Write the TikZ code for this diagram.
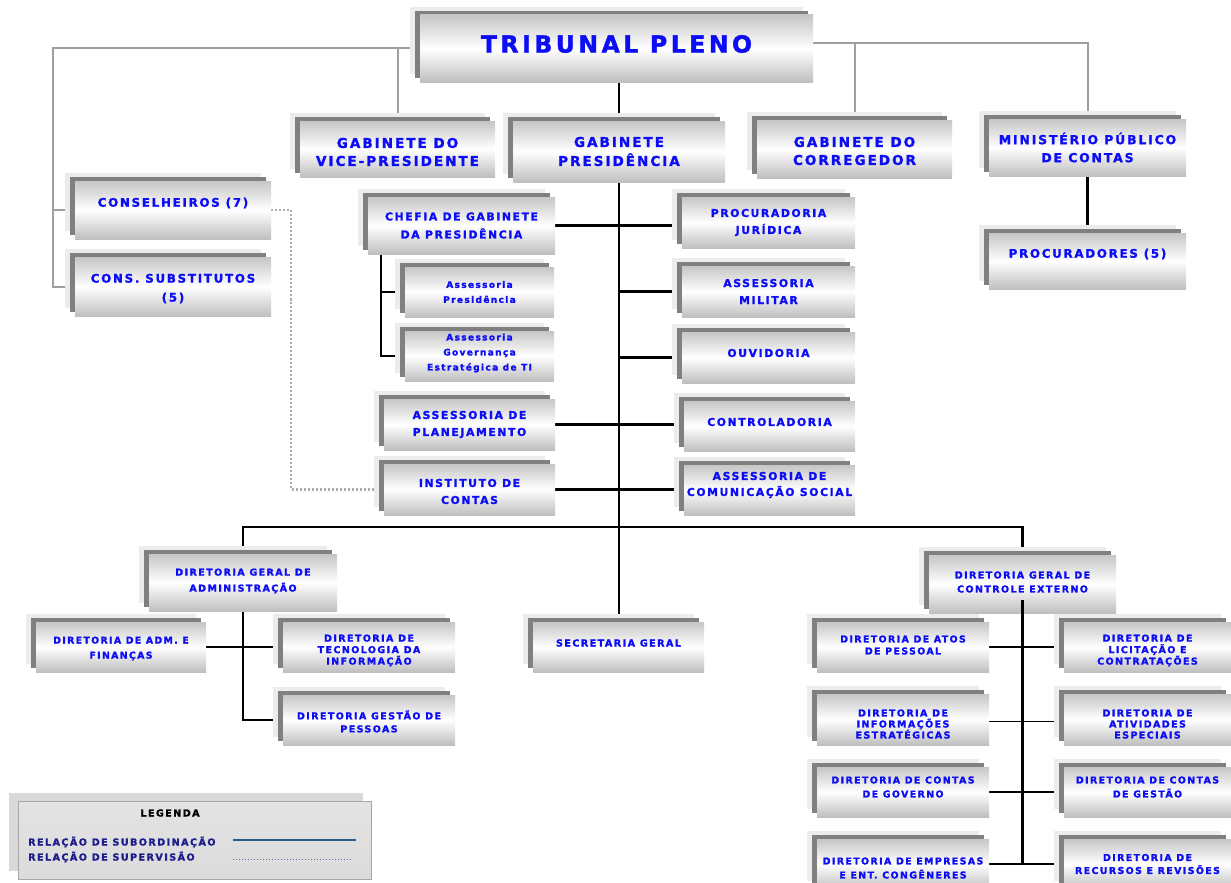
\documentclass[tikz,border=0pt]{standalone}
\usepackage{fontspec}
\newfontfamily\bxf{DejaVu Sans Bold}[LetterSpace=15, FakeBold=1.6]
\usetikzlibrary{shadows,backgrounds}
\definecolor{tblue}{RGB}{12,12,245}
\definecolor{navy}{RGB}{30,30,140}
\definecolor{steel}{RGB}{44,90,135}
\definecolor{steeld}{RGB}{80,112,160}
\tikzset{
  obox/.style={shade, top color=gray!45, bottom color=gray!50, middle color=white, inner sep=0pt,
    general shadow={fill=gray!15, shadow xshift=-10pt, shadow yshift=8pt},
    general shadow={fill=gray, shadow xshift=-5pt, shadow yshift=4pt}},
  otext/.style={text=tblue, align=center, inner sep=0pt},
  bline/.style={black, line width=2.2pt},
  spine/.style={black, line width=2.6pt},
  tline/.style={black, line width=1.8pt},
  gline/.style={gray!75, line width=2pt},
  dline/.style={gray!65, dash pattern=on 2pt off 2pt, line width=2.2pt},
}
\newcommand\obx[9]{%
  \node[obox, minimum width={(#4-#2)*1pt}, minimum height={(#5-#3)*1pt}] (#1) at ({(#2+#4)/2},{(#3+#5)/2}) {};
  \node[otext, font={\bxf\fontsize{#6}{#7}\selectfont}, yshift={-1pt*(#8)}] (#1t) at (#1) {#9};}
\begin{document}
\begin{tikzpicture}[x=1pt,y=-1pt]
\useasboundingbox (0,0) rectangle (1231,883);
\obx{tp}{420}{15}{813}{82}{23.5}{28}{-4.5}{TRIBUNAL PLENO}
\obx{vice}{300}{121}{495}{177}{13.5}{18}{3}{GABINETE DO\\VICE-PRESIDENTE}
\obx{gp}{513}{121}{725}{182}{13.5}{19}{0}{GABINETE\\PRESIDÊNCIA}
\obx{corr}{757}{120}{952}{178}{13.5}{18}{2}{GABINETE DO\\CORREGEDOR}
\obx{mpc}{989}{119}{1186}{176}{12.4}{18}{0}{MINISTÉRIO PÚBLICO\\DE CONTAS}
\obx{proc}{989}{233}{1186}{289}{11.8}{18}{-7}{PROCURADORES (5)}
\obx{cons}{75}{181}{271}{239}{11.8}{18}{-7}{CONSELHEIROS (7)}
\obx{subs}{75}{257}{271}{316}{11.8}{19}{2}{CONS. SUBSTITUTOS\\(5)}
\obx{chefia}{368}{197}{555}{254}{10.8}{18}{0}{CHEFIA DE GABINETE\\DA PRESIDÊNCIA}
\obx{ap}{405}{267}{554}{317}{9}{15}{0}{Assessoria\\Presidência}
\obx{ag}{405}{331}{554}{381}{9}{15}{-3}{Assessoria\\Governança\\Estratégica de TI}
\obx{pj}{682}{197}{855}{248}{10.8}{17}{0}{PROCURADORIA\\JURÍDICA}
\obx{am}{682}{266}{855}{317}{10.8}{17}{0}{ASSESSORIA\\MILITAR}
\obx{ouv}{682}{332}{855}{383}{10.8}{17}{-4.5}{OUVIDORIA}
\obx{plan}{384}{399}{555}{450}{10.8}{17}{0}{ASSESSORIA DE\\PLANEJAMENTO}
\obx{inst}{384}{464}{555}{515}{10.8}{17}{2}{INSTITUTO DE\\CONTAS}
\obx{ctrl}{684}{401}{855}{451}{10.8}{17}{-4}{CONTROLADORIA}
\obx{com}{684}{465}{855}{515}{10.8}{16}{-5}{ASSESSORIA DE\\COMUNICAÇÃO SOCIAL}
\obx{dga}{149}{554}{337}{611}{9.5}{16}{-1.5}{DIRETORIA GERAL DE\\ADMINISTRAÇÃO}
\obx{adm}{36}{622}{206}{672}{9.3}{15}{1.5}{DIRETORIA DE ADM. E\\FINANÇAS}
\obx{tec}{283}{622}{455}{672}{9.5}{11.5}{3.5}{DIRETORIA DE\\TECNOLOGIA DA\\INFORMAÇÃO}
\obx{gpes}{283}{695}{455}{745}{9.5}{13}{1.5}{DIRETORIA GESTÃO DE\\PESSOAS}
\obx{sg}{533}{622}{704}{672}{9.6}{12}{-4}{SECRETARIA GERAL}
\obx{dgce}{929}{555}{1116}{613}{9.5}{14}{-2}{DIRETORIA GERAL DE\\CONTROLE EXTERNO}
\obx{atos}{817}{622}{989}{672}{9.4}{12}{-2}{DIRETORIA DE ATOS\\DE PESSOAL}
\obx{lic}{1064}{622}{1231}{672}{9.5}{11.5}{3.5}{DIRETORIA DE\\LICITAÇÃO E\\CONTRATAÇÕES}
\obx{info}{817}{694}{989}{745}{9.5}{11}{4.5}{DIRETORIA DE\\INFORMAÇÕES\\ESTRATÉGICAS}
\obx{ativ}{1064}{694}{1231}{745}{9.5}{11}{4.5}{DIRETORIA DE\\ATIVIDADES\\ESPECIAIS}
\obx{gov}{817}{767}{989}{817}{9.4}{14}{-5}{DIRETORIA DE CONTAS\\DE GOVERNO}
\obx{gest}{1064}{767}{1231}{817}{9.4}{14}{-5}{DIRETORIA DE CONTAS\\DE GESTÃO}
\obx{emp}{817}{839}{989}{889}{9.4}{14}{4}{DIRETORIA DE EMPRESAS\\E ENT. CONGÊNERES}
\obx{rec}{1064}{839}{1231}{889}{9.4}{13}{0}{DIRETORIA DE\\RECURSOS E REVISÕES}
% legend
\fill[gray!30] (9,793) rectangle (363,871);
\node[shade, top color=gray!22, middle color=white, bottom color=gray!28, draw=gray!70, line width=0.8pt,
  minimum width=353pt, minimum height=78pt, inner sep=0pt] (leg) at (194.5,840) {};
\node[font={\bxf\fontsize{9.6}{11}\selectfont}, text=black, inner sep=0pt] (legt) at (170,813) {LEGENDA};
\node[font={\bxf\fontsize{9.6}{11}\selectfont}, text=navy, inner sep=0pt, anchor=west] (l1) at (28,842) {RELAÇÃO DE SUBORDINAÇÃO};
\node[font={\bxf\fontsize{9.6}{11}\selectfont}, text=navy, inner sep=0pt, anchor=west] (l2) at (28,857) {RELAÇÃO DE SUPERVISÃO};
\coordinate (s1) at (233,840); \coordinate (s2) at (356,840);
\coordinate (d1) at (233,859); \coordinate (d2) at (352,859);
\draw[steel, line width=1.6pt] (s1) -- (s2);
\draw[steeld, dotted, line width=1pt] (d1) -- (d2);
% connectors
\coordinate (gl) at (53,0);
\coordinate (gr) at ([yshift=5pt]tp.east);
\coordinate (dv) at (291,300);
\coordinate (bus) at (619,527);
\begin{scope}[on background layer]
\draw[gline] (tp.west) -- (tp.west -| gl) |- (subs.west);
\draw[gline] (gl |- cons.west) -- (cons.west);
\draw[gline] (tp.west -| vice.north) -- (vice.north);
\draw[gline] (gr) -| (mpc.north);
\draw[gline] (gr -| corr.north) -- (corr.north);
\draw[dline] (cons.east) -| (dv) |- (inst.west);
\draw[spine] (gp.north |- tp.south) -- (gp.north);
\draw[spine] (gp.south) -- (gp.south |- sg.north);
\draw[spine] (mpc.south) -- (proc.north);
\draw[bline] (chefia.east) -- (chefia.east -| pj.west);
\draw[bline] (am.west -| gp.south) -- (am.west);
\draw[bline] (ouv.west -| gp.south) -- (ouv.west);
\draw[bline] (plan.east) -- (plan.east -| ctrl.west);
\draw[bline] (inst.east) -- (inst.east -| com.west);
\draw[bline] ([xshift=13pt]chefia.south west) |- (ag.west);
\draw[bline] ([xshift=13pt]chefia.south west) |- (ap.west);
\draw[spine] (dga.north) |- (bus) -| (dgce.north);
\draw[bline] (dga.south) |- (gpes.west);
\draw[tline] (adm.east) -- (tec.west);
\draw[tline] (atos.east) -- (lic.west);
\draw[tline] ([yshift=-2pt]info.east) -- ([yshift=-2pt]ativ.west);
\draw[tline] (gov.east) -- (gest.west);
\draw[tline] (emp.east) -- (rec.west);
\end{scope}
\draw[spine] ([yshift=13pt]dgce.south) -- (dgce.south |- emp.east);
\end{tikzpicture}
\end{document}
